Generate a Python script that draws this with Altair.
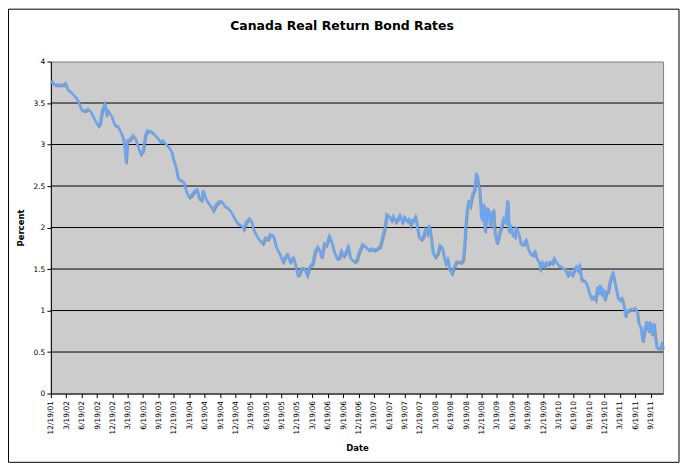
import altair as alt
import pandas as pd

# ---------------- data ----------------
title_text = "Canada Real Return Bond Rates"
start_date = "2001-12-19"

days_since_start = [
    0, 8, 23, 39, 73, 86, 98, 122, 152, 165, 181, 201, 221, 236, 260, 280, 291, 303, 319, 329,
    339, 358, 378, 398, 414, 427, 437, 445, 453, 467, 487, 500, 516, 532, 546, 560, 571, 595, 615, 634,
    650, 664, 684, 697, 717, 725, 741, 755, 774, 788, 804, 820, 834, 847, 867, 879, 893, 903, 914, 932,
    946, 962, 981, 1001, 1017, 1031, 1050, 1070, 1090, 1109, 1129, 1143, 1159, 1178, 1190, 1202, 1218, 1238, 1257, 1273,
    1287, 1301, 1320, 1336, 1356, 1376, 1391, 1405, 1419, 1439, 1454, 1464, 1474, 1488, 1504, 1520, 1533, 1553, 1567, 1583,
    1594, 1606, 1622, 1634, 1652, 1665, 1681, 1697, 1711, 1724, 1736, 1750, 1764, 1776, 1790, 1803, 1815, 1829, 1849, 1868,
    1888, 1902, 1918, 1937, 1953, 1967, 1981, 1992, 2006, 2020, 2032, 2046, 2060, 2071, 2085, 2099, 2115, 2125, 2134, 2144,
    2154, 2164, 2174, 2184, 2197, 2209, 2223, 2233, 2245, 2256, 2268, 2280, 2296, 2308, 2320, 2331, 2343, 2355, 2367, 2379,
    2390, 2406, 2422, 2434, 2446, 2454, 2461, 2469, 2479, 2489, 2501, 2513, 2525, 2534, 2544, 2554, 2562, 2568, 2576, 2584,
    2592, 2599, 2607, 2615, 2627, 2635, 2647, 2663, 2674, 2686, 2698, 2710, 2718, 2730, 2741, 2753, 2761, 2775, 2789, 2804,
    2820, 2832, 2844, 2860, 2873, 2883, 2897, 2905, 2917, 2928, 2940, 2952, 2964, 2976, 2988, 2999, 3011, 3027, 3041, 3055,
    3066, 3080, 3094, 3106, 3118, 3126, 3137, 3149, 3161, 3173, 3185, 3199, 3208, 3220, 3232, 3244, 3252, 3260, 3267, 3277,
    3287, 3297, 3307, 3317, 3327, 3336, 3346, 3356, 3366, 3378, 3390, 3402, 3409, 3417, 3429, 3441, 3455, 3469, 3480, 3488,
    3500, 3512, 3524, 3536, 3547, 3555, 3567, 3579, 3587, 3595, 3606, 3618, 3626, 3634,
]

rate_percent = [
    3.74, 3.76, 3.72, 3.72, 3.72, 3.74, 3.67, 3.63, 3.56, 3.51, 3.42, 3.41, 3.43, 3.40, 3.30, 3.23, 3.26, 3.41, 3.49, 3.37,
    3.41, 3.35, 3.24, 3.22, 3.15, 3.09, 2.97, 2.78, 3.05, 3.06, 3.11, 3.08, 2.98, 2.89, 2.93, 3.11, 3.17, 3.16, 3.12, 3.08,
    3.03, 3.05, 3.00, 2.98, 2.91, 2.83, 2.73, 2.59, 2.57, 2.55, 2.43, 2.37, 2.39, 2.43, 2.46, 2.35, 2.33, 2.45, 2.37, 2.30,
    2.27, 2.21, 2.28, 2.32, 2.31, 2.26, 2.24, 2.19, 2.11, 2.05, 2.03, 1.98, 2.07, 2.11, 2.08, 1.98, 1.91, 1.85, 1.81, 1.88,
    1.86, 1.92, 1.90, 1.77, 1.69, 1.59, 1.65, 1.68, 1.59, 1.64, 1.53, 1.43, 1.44, 1.51, 1.51, 1.43, 1.52, 1.57, 1.71, 1.77,
    1.73, 1.64, 1.81, 1.79, 1.90, 1.83, 1.71, 1.63, 1.64, 1.72, 1.66, 1.70, 1.77, 1.64, 1.61, 1.59, 1.61, 1.71, 1.80, 1.77,
    1.73, 1.75, 1.73, 1.75, 1.77, 1.88, 2.00, 2.16, 2.14, 2.09, 2.14, 2.07, 2.11, 2.15, 2.07, 2.13, 2.08, 2.10, 2.03, 2.09,
    2.09, 2.13, 2.01, 1.89, 1.86, 1.89, 1.98, 1.93, 2.03, 1.89, 1.69, 1.65, 1.69, 1.79, 1.77, 1.67, 1.57, 1.62, 1.49, 1.45,
    1.51, 1.59, 1.59, 1.58, 1.61, 1.77, 2.01, 2.21, 2.33, 2.27, 2.40, 2.45, 2.66, 2.57, 2.45, 2.13, 2.09, 2.29, 1.95, 2.17,
    2.24, 2.19, 2.01, 2.17, 2.20, 1.93, 1.81, 1.95, 2.01, 2.11, 2.07, 2.33, 1.95, 2.01, 1.91, 1.89, 2.01, 1.93, 1.81, 1.80,
    1.85, 1.75, 1.69, 1.67, 1.71, 1.63, 1.59, 1.51, 1.58, 1.53, 1.58, 1.56, 1.59, 1.57, 1.63, 1.59, 1.55, 1.53, 1.51, 1.49,
    1.43, 1.47, 1.43, 1.49, 1.53, 1.49, 1.54, 1.37, 1.37, 1.35, 1.29, 1.19, 1.15, 1.17, 1.13, 1.29, 1.21, 1.31, 1.19, 1.24,
    1.13, 1.23, 1.23, 1.35, 1.41, 1.45, 1.35, 1.25, 1.15, 1.13, 1.15, 1.05, 0.93, 1.00, 1.00, 1.02, 1.01, 1.03, 0.99, 0.85,
    0.81, 0.63, 0.77, 0.87, 0.75, 0.87, 0.71, 0.85, 0.69, 0.56, 0.55, 0.55, 0.60, 0.56,
]

tick_dates = [
    "2001-12-19",
    "2002-03-19", "2002-06-19", "2002-09-19", "2002-12-19",
    "2003-03-19", "2003-06-19", "2003-09-19", "2003-12-19",
    "2004-03-19", "2004-06-19", "2004-09-19", "2004-12-19",
    "2005-03-19", "2005-06-19", "2005-09-19", "2005-12-19",
    "2006-03-19", "2006-06-19", "2006-09-19", "2006-12-19",
    "2007-03-19", "2007-06-19", "2007-09-19", "2007-12-19",
    "2008-03-19", "2008-06-19", "2008-09-19", "2008-12-19",
    "2009-03-19", "2009-06-19", "2009-09-19", "2009-12-19",
    "2010-03-19", "2010-06-19", "2010-09-19", "2010-12-19",
    "2011-03-19", "2011-06-19", "2011-09-19",
]

y_ticks = [0, 0.5, 1, 1.5, 2, 2.5, 3, 3.5, 4]
grid_values = [0.5, 1, 1.5, 2, 2.5, 3, 3.5]

# ---------------- build ----------------
dates = pd.Timestamp(start_date) + pd.to_timedelta(days_since_start, unit="D")
df = pd.DataFrame({"Date": dates, "Percent": rate_percent})
grid_df = pd.DataFrame({"Percent": grid_values})
frame_df = pd.DataFrame({"k": [0]})


def dt(ts):
    t = pd.Timestamp(ts)
    return alt.DateTime(year=t.year, month=t.month, date=t.day)


FONT = "DejaVu Sans"
W, H = 614, 333

x_scale = alt.Scale(domain=[dt(dates[0]), dt(dates[-1])], nice=False)
y_scale = alt.Scale(domain=[0, 4], nice=False)

x_axis = alt.Axis(
    values=[dt(s) for s in tick_dates],
    format="%-m/%-d/%y",
    labelAngle=270,
    labelAlign="right",
    labelBaseline="middle",
    labelFontSize=7.5,
    labelFont=FONT,
    labelColor="black",
    labelPadding=3,
    labelOverlap=False,
    labelFlush=False,
    tickSize=4,
    tickColor="black",
    domainColor="black",
    grid=False,
    title="Date",
    titleFont=FONT,
    titleFontSize=8.5,
    titleFontWeight="bold",
    titleColor="black",
    titleX=W / 2,
    titleY=50,
    titleBaseline="top",
)

y_axis = alt.Axis(
    values=y_ticks,
    format="~g",
    labelFontSize=7.5,
    labelFont=FONT,
    labelColor="black",
    labelPadding=2,
    tickSize=4,
    tickColor="black",
    domainColor="black",
    grid=False,
    title="Percent",
    titleFont=FONT,
    titleFontSize=8.5,
    titleFontWeight="bold",
    titleColor="black",
    titleX=-25,
    titleY=H / 2,
)

X = alt.X("Date:T", scale=x_scale, axis=x_axis)
Y = alt.Y("Percent:Q", scale=y_scale, axis=y_axis)

grid = alt.Chart(grid_df).mark_rule(color="black", strokeWidth=1).encode(y=Y)

shadow = alt.Chart(df).mark_line(
    color="#808080", strokeWidth=2.2, xOffset=1, yOffset=1.5, opacity=0.75
).encode(x=X, y=Y)

line = alt.Chart(df).mark_line(color="#6AA6F6", strokeWidth=2.3).encode(x=X, y=Y)

frame = alt.Chart(frame_df).mark_rect(fill=None, stroke="black", strokeWidth=1).encode(
    x=alt.value(-42.5), x2=alt.value(W + 16), y=alt.value(-52.5), y2=alt.value(H + 69)
)

chart = (
    alt.layer(grid, shadow, line, frame)
    .properties(
        width=W,
        height=H,
        background="white",
        autosize=alt.AutoSizeParams(type="none"),
        padding={"left": 43, "top": 53, "right": 17, "bottom": 70},
        title=alt.TitleParams(
            title_text,
            font=FONT,
            fontSize=12.5,
            fontWeight="bold",
            color="black",
            anchor="middle",
            dx=-15,
            offset=-24,
        ),
    )
    .configure_view(fill="#CCCCCC", stroke="#808080", strokeWidth=1)
)

chart.save("out.html", embed_options={"renderer": "svg", "actions": False})
